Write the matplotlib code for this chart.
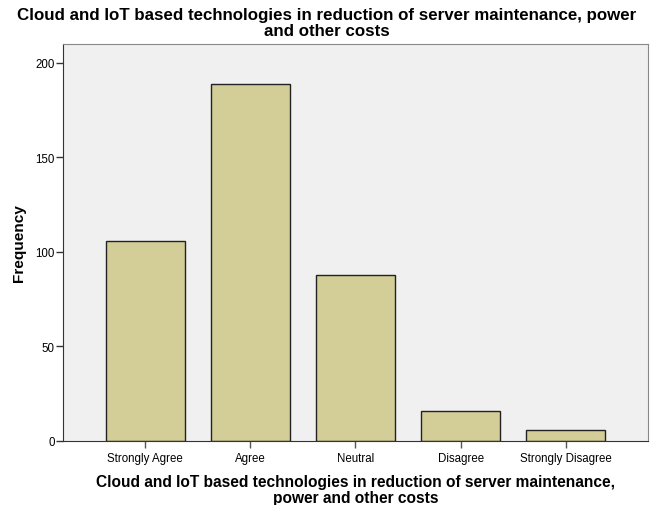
import matplotlib.pyplot as plt
import numpy as np

categories = ['Strongly Agree', 'Agree', 'Neutral', 'Disagree', 'Strongly Disagree']
frequency = [106, 189, 88, 16, 6]
yticks = [0, 50, 100, 150, 200]

plt.rcParams['font.family'] = ['Liberation Sans', 'DejaVu Sans']

fig = plt.figure(figsize=(6.54, 5.06), dpi=100)
ax = fig.add_axes([0.0963, 0.1265, 0.8945, 0.7845])
ax.set_facecolor('#F0F0F0')

x = np.arange(len(categories))
ax.bar(x, frequency, width=0.75, color='#D3CE97', edgecolor='#222222', linewidth=1.0, zorder=2)

ax.set_xlim(-0.78, len(categories) - 1 + 0.78)
ax.set_ylim(0, 210)
ax.set_yticks(yticks)
ax.set_xticks(x)
ax.set_xticklabels(categories, fontsize=8.3)
ax.tick_params(axis='y', labelsize=8.3, length=5, width=1, color='#333333', pad=1)
ax.tick_params(axis='x', length=5, width=1, color='#555555', pad=3)

for side in ['top', 'right']:
    ax.spines[side].set_color('#888888')
for side in ['left', 'bottom']:
    ax.spines[side].set_color('#333333')

ax.set_ylabel('Frequency', fontsize=11.1, fontweight='bold', labelpad=7)
ax.set_xlabel('Cloud and IoT based technologies in reduction of server maintenance,\npower and other costs',
              fontsize=11.2, fontweight='bold', labelpad=7, linespacing=1.1)
fig.text(0.5, 0.984,
         'Cloud and IoT based technologies in reduction of server maintenance, power\nand other costs',
         fontsize=12.2, fontweight='bold', ha='center', va='top', linespacing=1.1)

plt.savefig('out.png', dpi=100)
